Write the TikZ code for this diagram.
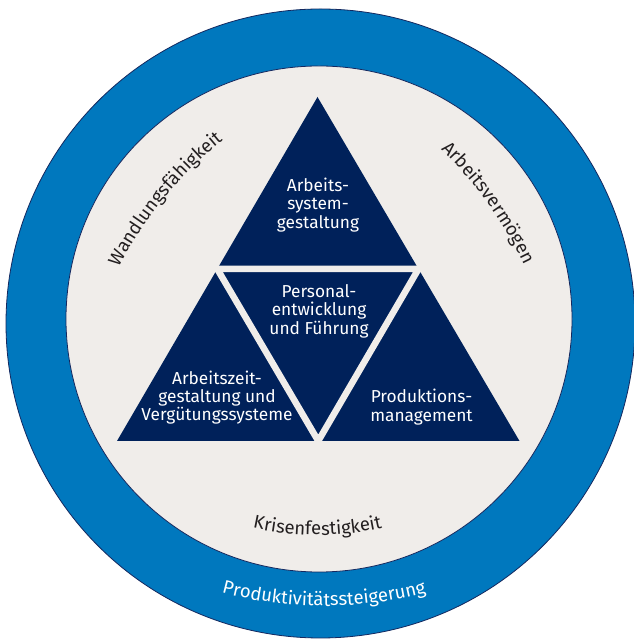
\documentclass[tikz,border=0pt]{standalone}
\usepackage{fontspec}
\setmainfont{Fira Sans}
\usetikzlibrary{decorations.text,calc}
\definecolor{ringblue}{RGB}{0,120,190}
\definecolor{navy}{RGB}{0,33,90}
\definecolor{bggray}{RGB}{240,237,234}
\definecolor{edgenavy}{RGB}{20,40,95}
\definecolor{txtdark}{RGB}{35,31,32}
\newcommand{\tfont}{\fontsize{17.3}{18.4}\selectfont}
\newcommand{\afont}{\fontsize{18.5}{20}\selectfont}
\begin{document}
\begin{tikzpicture}[x=1pt,y=1pt,
  tritext/.style={text=white, align=center, font=\tfont, inner sep=0pt},
  arctext/.style 2 args={decorate, decoration={text along path, text align=center,
      text color=#1, text={|\afont|#2}}},
]
\fill[white] (0,0) rectangle (633,642);
\useasboundingbox (0,0) rectangle (633,642);
% rings
\draw[edgenavy, line width=0.8, fill=ringblue] (320.5,318.5) circle[radius=314.5];
\draw[edgenavy, line width=0.8, fill=bggray] (319,323) circle[radius=253];
% triangle
\coordinate (apex) at (317.5,545);
\coordinate (bl) at (117,201);
\coordinate (br) at (519.5,201);
\coordinate (ml) at ($(apex)!0.5!(bl)$);
\coordinate (mr) at ($(apex)!0.5!(br)$);
\coordinate (mb) at ($(bl)!0.5!(br)$);
\fill[navy] (apex) -- (bl) -- (br) -- cycle;
\draw[bggray, line width=6.5, line join=miter] (ml) -- (mr) -- (mb) -- cycle;
% triangle texts
\node[tritext] (t1) at (318,437) {Arbeits-\\system-\\gestaltung};
\node[tritext] (t2) at (319,331) {Personal-\\entwicklung\\und Führung};
\node[tritext] (t3) at (217,244.5) {Arbeitszeit-\\gestaltung und\\Vergütungssysteme};
\node[tritext] (t4) at (421.5,235) {Produktions-\\management};
% curved texts
\path[postaction={arctext={txtdark}{Wandlungsfähigkeit}}]
  ([shift={(160.7:400)}]473.7,190.4) arc[start angle=160.7, end angle=120.7, radius=400];
\path[postaction={arctext={txtdark}{Arbeitsvermögen}}]
  ([shift={(55.8:400)}]163.2,204.7) arc[start angle=55.8, end angle=15.8, radius=400];
\path[postaction={arctext={txtdark}{Krisenfestigkeit}}]
  ([shift={(250:300)}]317.5,407) arc[start angle=250, end angle=290, radius=300];
\path[postaction={arctext={white}{Produktivitätssteigerung}}]
  ([shift={(250:400)}]324,436) arc[start angle=250, end angle=290, radius=400];
\end{tikzpicture}
\end{document}
